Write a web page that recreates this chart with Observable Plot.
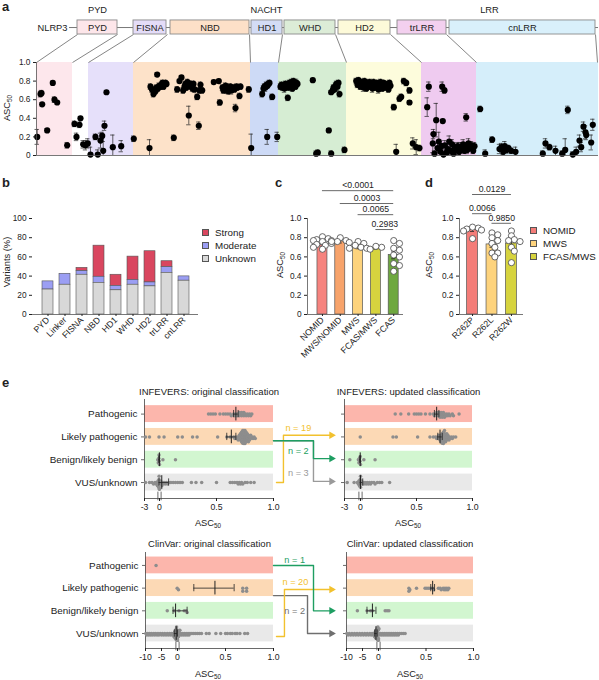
<!DOCTYPE html>
<html>
<head>
<meta charset="utf-8">
<script src="https://cdn.jsdelivr.net/npm/d3@7"></script>
<script src="https://cdn.jsdelivr.net/npm/@observablehq/plot@0.6"></script>
<style>
  html,body{margin:0;padding:0;background:#fff;}
  #fig{position:relative;width:599px;height:680px;overflow:hidden;font-family:"Liberation Sans",Arial,sans-serif;color:#222;}
  .ov{position:absolute;white-space:nowrap;line-height:1;}
  .pl{position:absolute;}
  .pl svg{display:block;}
  .sw{position:absolute;width:7px;height:7px;border:0.8px solid #555;box-sizing:border-box;}
  sub{font-size:68%;vertical-align:-0.3em;line-height:0;}
</style>
</head>
<body>
<div id="fig"></div>
<script>
// ======================= DATA =======================
// ---- panel a: domain schematic (schematic units) and variants (variant rank, ASC50, error)
const aDomainNames = ["PYD","FISNA","NBD","HD1","WHD","HD2","trLRR","cnLRR"];
const aBoxStart    = [41, 97, 134, 215, 248, 302, 361, 413];
const aBoxEnd      = [81, 130, 213, 246, 299, 354, 410, 559];
const aRegionStart = [0, 52, 97, 214, 242, 310, 385, 440];
const aRegionEnd   = [36, 97, 214, 242, 310, 385, 440, 562];
const aGroupNames  = ["PYD","NACHT","LRR"];
const aGroupPos    = [61, 230, 453];
const aConnectBox    = [41, 81, 97, 131, 213, 246, 299, 354, 410, 559];
const aConnectRegion = [0, 36, 52, 97, 214, 242, 310, 385, 440, 561];
const aSpan = [33, 562];
const aYTicks = [0, 0.2, 0.4, 0.6, 0.8, 1.0];
const aVariants = [
[0.7,0.20,0.08],[4,0.66,0.03],[5,0.67,0.03],[5.7,0.55,0.02],[10.7,0.27,0.02],[16.3,0.78,0.02],[18,0.60,0.03],[20.7,0.57,0.02],[30.7,0.11,0.03],
[38,0.34,0.03],[40,0.20,0.04],[43,0.33,0.03],[44,0.40,0.02],[46.7,0.12,0.04],[49,0.11,0.05],[51.3,0.13,0.05],
[54,0.01,0.08],[59,0.20,0.03],[61.3,0.01,0.05],[64,0.16,0.08],[65.7,0.21,0.04],[66.7,0.05,0.10],[68,0.32,0.05],[70,0.68,0.02],[76.3,0.09,0.13],[84.7,0.10,0.06],
[97.3,0.18,0.03],[113,0.08,0.09],
[114,0.74,0.03],[115.5,0.71,0.03],[117,0.66,0.03],[118,0.70,0.03],[119,0.69,0.03],[120,0.73,0.03],[120.7,0.87,0.02],[121.5,0.72,0.03],[122.7,0.75,0.03],[124,0.74,0.03],[125,0.76,0.03],[126,0.78,0.03],[127,0.74,0.03],[128,0.77,0.03],[129,0.78,0.03],[130,0.77,0.03],
[137.3,0.19,0.03],
[140.7,0.71,0.03],[143,0.80,0.02],[145,0.84,0.02],[146.7,0.70,0.03],[148,0.74,0.03],[149,0.77,0.03],[150,0.73,0.03],[151,0.79,0.03],[152,0.76,0.03],[152.3,0.43,0.10],[153,0.75,0.03],[154,0.77,0.03],[155,0.74,0.03],[156,0.72,0.03],[157,0.77,0.03],[158,0.71,0.03],[160.7,0.63,0.03],[162.3,0.32,0.04],[163,0.70,0.03],[164,0.76,0.03],[165.7,0.70,0.03],
[177.3,0.79,0.02],[182.3,0.80,0.02],[183.3,0.57,0.03],[186,0.73,0.03],[187,0.70,0.03],[188,0.72,0.04],[189,0.75,0.03],[190,0.70,0.03],[191,0.73,0.04],[192,0.69,0.03],[193,0.72,0.03],[194,0.74,0.03],[195,0.70,0.04],[197,0.73,0.03],[198,0.71,0.03],[199,0.51,0.04],[200,0.74,0.03],[201,0.73,0.03],[203,0.64,0.03],[204,0.74,0.03],[212.3,0.71,0.03],[214.7,0.08,0.15],
[225.7,0.66,0.03],[227,0.72,0.03],[228,0.74,0.03],[229,0.73,0.04],[230,0.76,0.03],[230.7,0.20,0.08],[231,0.75,0.03],[232,0.77,0.03],[233,0.78,0.03],[235.7,0.63,0.03],[240.7,0.20,0.05],
[244,0.74,0.03],[245,0.76,0.03],[246,0.73,0.03],[247,0.75,0.03],[248,0.72,0.04],[249,0.77,0.03],[250,0.74,0.03],[251.3,0.62,0.03],[252,0.73,0.03],[253,0.78,0.03],[254,0.75,0.03],[255,0.79,0.03],[256,0.72,0.03],[257,0.80,0.03],[258,0.76,0.03],[259,0.74,0.03],[260,0.78,0.04],[261,0.77,0.03],
[276.3,0.81,0.02],[279.7,0.02,0.03],[281.3,0.03,0.03],[292.3,0.27,0.02],[294.7,0.02,0.03],[294.7,0.68,0.02],[296.3,0.70,0.02],[297,0.73,0.03],[298,0.71,0.02],[299,0.75,0.03],[300,0.77,0.03],[301,0.74,0.04],[302,0.78,0.03],[303,0.66,0.03],[308,0.06,0.03],
[319.7,0.80,0.03],[321,0.76,0.03],[322,0.81,0.03],[323,0.78,0.04],[324,0.74,0.03],[325,0.79,0.03],[326,0.77,0.03],[327,0.73,0.04],[328,0.80,0.03],[329,0.76,0.03],[330,0.72,0.03],[331,0.78,0.03],[332,0.75,0.04],[333,0.79,0.03],[334,0.74,0.03],[335,0.77,0.03],[336,0.72,0.04],[337,0.79,0.03],[338,0.76,0.03],[339,0.73,0.03],[340,0.78,0.03],[341,0.75,0.03],[342,0.71,0.04],[343,0.77,0.03],[344,0.79,0.03],[345,0.74,0.03],[346,0.72,0.03],[347,0.78,0.03],[348,0.75,0.03],[349,0.77,0.03],[350,0.73,0.03],[351,0.76,0.03],[352,0.71,0.03],[353,0.78,0.03],[354,0.75,0.03],
[357.3,0.52,0.03],[359.7,0.04,0.08],[363,0.61,0.03],[364.7,0.63,0.03],[367.3,0.80,0.03],[369.7,0.78,0.03],[373,0.70,0.03],[373,0.57,0.02],[376.3,0.13,0.06],[379.7,0.09,0.08],[383,0.08,0.03],
[390.7,0.52,0.10],[392.3,0.74,0.05],[397,0.23,0.05],[399.7,0.38,0.18],[405.7,0.74,0.05],[408,0.70,0.03],[406.3,0.37,0.02],[429.7,0.41,0.04],
[396.3,0.13,0.10],[398,0.02,0.03],[401,0.08,0.05],[402.3,0.15,0.10],[404,0.04,0.05],[405,0.10,0.03],[407,0.01,0.03],[408.3,0.11,0.05],[410,0.03,0.04],[411.3,0.07,0.05],[412.7,0.15,0.06],[414,0.05,0.04],[415.7,0.12,0.05],[417,0.02,0.03],[418.3,0.08,0.04],[420,0.06,0.06],[421.3,0.10,0.04],[422.7,0.04,0.03],[424,0.09,0.05],[425.3,0.07,0.04],[426.7,0.12,0.05],[428,0.05,0.03],[429.3,0.10,0.04],[430.7,0.06,0.04],[432,0.13,0.05],[433.3,0.08,0.03],[435,0.11,0.04],[436.7,0.05,0.03],[438,0.10,0.04],
[443.7,0.50,0.03],[448.7,0.02,0.04],[455.7,0.17,0.03],[463,0.07,0.05],[465,0.09,0.04],[466.7,0.04,0.03],[468.3,0.10,0.05],[470,0.06,0.04],[472,0.08,0.03],[474.7,0.05,0.03],[479,0.04,0.05],
[506.3,0.02,0.03],[509,0.13,0.05],[513,0.09,0.03],[519,0.05,0.05],[525.7,0.02,0.03],[528.7,0.06,0.12],[531.3,0.49,0.04],[536.3,0.01,0.03],[539.7,0.04,0.05],[543,0.16,0.06],[544.7,0.09,0.05],[547,0.31,0.05],[549,0.25,0.07],[549.7,0.22,0.05],[554.7,0.14,0.08],[556.3,0.33,0.06]
];

// ---- panel b: variants (%) per domain
const bCats     = ["PYD","Linker","FISNA","NBD","HD1","WHD","HD2","trLRR","cnLRR"];
const bUnknown  = [26, 31, 41.4, 33, 25.2, 31, 29.3, 43.4, 35.2];
const bModerate = [8.5, 11.4, 3.8, 6.3, 4.5, 4.9, 4.1, 5.9, 4.5];
const bStrong   = [0, 0, 3.4, 32.4, 11.7, 24.4, 32.5, 6.2, 0];
const bClasses  = ["Strong","Moderate","Unknown"];
const bYTicks   = [0, 20, 40, 60, 80, 100];

// ---- panel c: ASC50 by phenotype
const cCats  = ["NOMID","MWS/NOMID","MWS","FCAS/MWS","FCAS"];
const cMeans = [0.72, 0.76, 0.70, 0.69, 0.62];
const cSem   = [0.015, 0.015, 0.015, 0.01, 0.04];
const cPoints = [
  [0.81,0.79,0.78,0.77,0.77,0.76,0.75,0.74,0.73,0.72,0.70,0.68],
  [0.80,0.77,0.76,0.76,0.75],
  [0.76,0.74,0.72,0.70,0.69,0.69],
  [0.68,0.70,0.71],
  [0.77,0.74,0.69,0.67,0.62,0.60,0.53,0.51,0.45]
];
const cSigFrom = ["NOMID","MWS/NOMID","MWS","FCAS/MWS"];
const cSigTo   = ["FCAS","FCAS","FCAS","FCAS"];
const cSigP    = ["<0.0001","0.0003","0.0065","0.2983"];
const cSigLevel = [1.29, 1.156, 1.04, 0.885];
const cYTicks = [0, 0.2, 0.4, 0.6, 0.8, 1.0];

// ---- panel d: R262 variants
const dCats  = ["R262P","R262L","R262W"];
const dMeans = [0.885, 0.73, 0.74];
const dSem   = [0.02, 0.03, 0.035];
const dPoints = [
  [0.91,0.90,0.89,0.88,0.87,0.79],
  [0.85,0.83,0.80,0.77,0.74,0.70,0.64,0.64,0.60],
  [0.87,0.82,0.78,0.77,0.76,0.70,0.66,0.54]
];
const dSigFrom = ["R262P","R262P","R262L"];
const dSigTo   = ["R262W","R262L","R262W"];
const dSigP    = ["0.0129","0.0066","0.9850"];
const dSigLevel = [1.25, 1.05, 0.95];
const dLegend  = ["NOMID","MWS","FCAS/MWS"];

// ---- panel e: classification rows and ASC50 values
const eRows = ["Pathogenic","Likely pathogenic","Benign/likely benign","VUS/unknown"];
const infOrig = [
  [0.43,0.45,0.47,0.49,0.53,0.56,0.58,0.60,0.62,0.63,0.65,0.66,0.67,0.68,0.69,0.70,0.70,0.71,0.72,0.72,0.73,0.74,0.74,0.75,0.76,0.77,0.78,0.79,0.80,0.81],
  [-2.8,-2.0,-0.1,0.04,0.16,0.20,0.29,0.33,0.51,0.59,0.62,0.65,0.66,0.67,0.68,0.69,0.69,0.70,0.70,0.71,0.71,0.71,0.72,0.72,0.72,0.72,0.73,0.73,0.73,0.73,0.73,0.74,0.74,0.74,0.74,0.74,0.74,0.75,0.75,0.75,0.75,0.75,0.76,0.76,0.76,0.76,0.77,0.77,0.77,0.78,0.78,0.78,0.79,0.79,0.80,0.80,0.81,0.82,0.83,0.84],
  [-0.35,-0.25,-0.15,-0.1,-0.05,0.0,0.03,0.14],
  [-2.8,-2.0,-1.5,-1.2,-0.9,-0.7,-0.5,-0.4,-0.3,-0.2,-0.15,-0.1,-0.08,-0.05,-0.03,0.0,0.0,0.01,0.01,0.02,0.02,0.03,0.04,0.05,0.06,0.07,0.08,0.10,0.12,0.14,0.16,0.18,0.20,0.28,0.32,0.37,0.50,0.62,0.64,0.66,0.68,0.69,0.70,0.71,0.72,0.73,0.75,0.77,0.80,0.83]
];
const infOrigStats = [[0.67,0.65,0.69],[0.63,0.59,0.67],[-0.02,-0.15,0.0],[0.02,-0.1,0.08]];
const infUpd = [
  [0.31,0.36,0.43,0.48,0.50,0.52,0.54,0.58,0.62,0.65,0.66,0.67,0.68,0.68,0.69,0.70,0.70,0.71,0.71,0.72,0.72,0.73,0.73,0.74,0.74,0.75,0.75,0.76,0.77,0.78,0.79,0.80,0.82,0.83,0.88],
  [-0.05,0.29,0.32,0.51,0.62,0.65,0.67,0.68,0.69,0.70,0.70,0.71,0.71,0.72,0.72,0.72,0.73,0.73,0.73,0.73,0.74,0.74,0.74,0.74,0.74,0.75,0.75,0.75,0.75,0.76,0.76,0.76,0.77,0.77,0.77,0.78,0.78,0.79,0.79,0.80,0.81,0.82,0.83,0.85],
  [-2.0,-0.4,-0.3,-0.2,-0.1,-0.05,0.0,0.03,0.13],
  [-2.5,-1.2,-0.6,-0.4,-0.3,-0.2,-0.1,-0.05,0.0,0.0,0.01,0.01,0.02,0.03,0.04,0.05,0.06,0.07,0.08,0.09,0.10,0.12,0.13,0.15,0.17,0.19,0.26]
];
const infUpdStats = [[0.68,0.66,0.70],[0.71,0.69,0.73],[-0.05,-0.15,0.0],[0.0,-0.05,0.02]];
const cvOrig = [
  [-6.7],
  [-0.1,0.01,0.68,0.68,0.72,0.72],
  [-3.2,-1.0,0.015,0.07,0.09,0.10],
  [-9.9,-9.6,-9.3,-9.0,-8.7,-8.4,-8.1,-7.8,-7.4,-7.1,-6.8,-6.4,-6.1,-5.8,-5.4,-5.0,-4.7,-4.3,-4.0,-3.6,-3.2,-2.9,-2.5,-2.2,-1.9,-1.6,-1.3,-1.1,-0.9,-0.8,-0.7,-0.6,-0.5,-0.45,-0.4,-0.35,-0.3,-0.25,-0.2,-0.18,-0.15,-0.12,-0.1,-0.08,-0.06,-0.05,-0.04,-0.03,-0.02,-0.01,
   0,0.005,0.01,0.015,0.02,0.025,0.03,0.04,0.05,0.06,0.07,0.08,0.09,0.10,0.11,0.12,0.13,0.15,0.17,0.19,0.21,0.23,0.25,0.30,0.33,0.40,0.45,0.50,0.52,0.55,0.57,0.60,0.62,0.65,0.70,0.73]
];
const cvOrigStats = [null,[0.39,0.17,0.59],[-0.6,-1.4,0.1],[-0.4,-1.0,0.0]];
const cvUpd = [
  [],
  [0.32,0.32,0.33,0.40,0.49,0.51,0.53,0.55,0.57,0.58,0.63,0.65,0.66,0.68,0.69,0.70,0.71,0.72,0.73,0.74],
  [-6.6,-3.6,-2.5,-1.9,0.07,0.09,0.11],
  [-9.9,-9.5,-9.1,-8.7,-8.3,-7.9,-7.5,-7.1,-6.7,-6.3,-5.9,-5.5,-5.1,-4.7,-4.3,-3.9,-3.5,-3.1,-2.7,-2.3,-2.0,-1.7,-1.4,-1.2,-1.0,-0.9,-0.8,-0.7,-0.6,-0.5,-0.4,-0.35,-0.3,-0.25,-0.2,-0.15,-0.1,-0.08,-0.05,-0.03,-0.01,
   0,0.005,0.01,0.02,0.03,0.04,0.05,0.06,0.07,0.08,0.09,0.10,0.11,0.12,0.13,0.14,0.15,0.16,0.17,0.18,0.19,0.20,0.21,0.22,0.24,0.26,0.28]
];
const cvUpdStats = [null,[0.57,0.55,0.59],[-1.9,-3.6,-0.8],[-0.8,-1.2,-0.4]];
const eTopTicks = [-3, 0, 0.5, 1];
const eTopTickLabels = ["-3","0","0.5","1.0"];
const eBotTicks = [-10, -5, 0, 0.5, 1];
const eBotTickLabels = ["-10","-5","0","0.5","1.0"];
const eTopFlows = [
  {from:"Likely pathogenic", to:"VUS/unknown", n:3, color:"gray"},
  {from:"VUS/unknown", to:"Likely pathogenic", n:19, color:"yellow"},
  {from:"Likely pathogenic", to:"Benign/likely benign", n:2, color:"green"}
];
const eBotFlows = [
  {from:"Likely pathogenic", to:"VUS/unknown", n:2, color:"gray"},
  {from:"VUS/unknown", to:"Likely pathogenic", n:20, color:"yellow"},
  {from:"Pathogenic", to:"Benign/likely benign", n:1, color:"green"}
];

// ======================= STYLE / LAYOUT =======================
const FONT = '"Liberation Sans", Arial, sans-serif';
const INK = "#222";
const base = {fontFamily: FONT, fontSize: "8.5px", background: "transparent", color: INK, overflow: "visible"};
const regionFill = {PYD:"#fde7ec", FISNA:"#e6e0fa", NBD:"#fde2c9", HD1:"#cddaf6", WHD:"#d6edd3", HD2:"#fdfcdc", trLRR:"#efcbf0", cnLRR:"#d5eefa"};
const boxFill    = {PYD:"#fde6ea", FISNA:"#e4dcf8", NBD:"#fde0c8", HD1:"#d3dcf5", WHD:"#dcecd7", HD2:"#fdfad9", trLRR:"#f3d0ef", cnLRR:"#d9f0fb"};
const bColors = ["#d9465f","#9b9ef3","#d8d8d8"];
const phenoColor = {"NOMID":"#f6837e","MWS/NOMID":"#f7a36b","MWS":"#fdd37d","FCAS/MWS":"#d6d33e","FCAS":"#6ea83f"};
const dColor = ["#f47c78","#fdd37d","#d6d33e"];
const rowFill = ["#fcb6ac","#fcd9b5","#d2f6d0","#e9e9e9"];
const flowColor = {gray:"#9a9a9a", yellow:"#f2c12e", green:"#1e9e62"};
const flowColorBot = {gray:"#6f6f6f", yellow:"#f2c12e", green:"#1e9e62"};

const fig = document.getElementById("fig");
function mount(svg, left, top) {
  const d = document.createElement("div"); d.className = "pl";
  d.style.left = left + "px"; d.style.top = top + "px";
  d.appendChild(svg); fig.appendChild(d);
}
function ov(html, x, y, o = {}) {
  const d = document.createElement("div"); d.className = "ov"; d.innerHTML = html;
  d.style.left = x + "px"; d.style.top = y + "px";
  d.style.fontSize = (o.size || 9) + "px";
  if (o.bold) d.style.fontWeight = "bold";
  if (o.color) d.style.color = o.color;
  const ax = o.anchor === "start" ? "0%" : o.anchor === "end" ? "-100%" : "-50%";
  d.style.transform = `translate(${ax},-50%)` + (o.rotate ? ` rotate(${o.rotate}deg)` : "");
  fig.appendChild(d);
}
function swatch(x, y, color) {
  const d = document.createElement("div"); d.className = "sw";
  d.style.left = x + "px"; d.style.top = y + "px"; d.style.background = color;
  fig.appendChild(d);
}
// deterministic beeswarm: returns pixel offsets perpendicular to pos
function swarm(pos, r, maxOff, overlap = 0.92) {
  const n = pos.length, out = new Array(n).fill(0);
  const order = d3.range(n).sort((a, b) => pos[a] - pos[b]);
  const placed = [], minD = 2 * r * overlap, step = r * 0.9;
  for (const i of order) {
    const p = pos[i];
    const near = placed.filter(q => Math.abs(q.p - p) < minD);
    let chosen = null;
    for (let k = 0; k < 80 && chosen === null; k++) {
      const cands = k === 0 ? [0] : [k * step, -k * step];
      for (const o of cands) {
        if (near.every(q => (q.p - p) ** 2 + (q.o - o) ** 2 >= minD * minD)) { chosen = o; break; }
      }
    }
    if (chosen === null) chosen = 0;
    chosen = Math.max(-maxOff, Math.min(maxOff, chosen));
    placed.push({p, o: chosen}); out[i] = chosen;
  }
  return out;
}

// ======================= PANEL A =======================
{
  const doms = aDomainNames.map((name, i) => ({name, b0: aBoxStart[i], b1: aBoxEnd[i], r0: aRegionStart[i], r1: aRegionEnd[i]}));
  const groups = aGroupNames.map((name, i) => ({name, pos: aGroupPos[i]}));
  const conn = aConnectBox.map((b, i) => ({box: b, region: aConnectRegion[i]}));
  const vars = aVariants.map(([pos, v, e]) => ({pos, v, e}));
  const S = {boxTop: 1.452, boxBottom: 1.301, line: 1.376, group: 1.559};
  const svg = Plot.plot({
    width: 599, height: 170, marginLeft: 36, marginRight: 1, marginTop: 62, marginBottom: 15,
    style: base,
    x: {domain: [0, 562], axis: null},
    y: {domain: [0, 1], axis: null},
    marks: [
      Plot.rect(doms, {x1: "r0", x2: "r1", y1: 0, y2: 1, fill: d => regionFill[d.name]}),
      Plot.ruleY([S.line], {x1: aSpan[0], x2: aSpan[1], stroke: "#777", strokeWidth: 1}),
      Plot.link(conn, {x1: "box", y1: S.boxBottom, x2: "region", y2: 1, stroke: "#666", strokeWidth: 0.8}),
      Plot.rect(doms, {x1: "b0", x2: "b1", y1: S.boxBottom, y2: S.boxTop, fill: d => boxFill[d.name], stroke: "#8a8a8a", strokeWidth: 0.9}),
      Plot.text(doms, {x: d => (d.b0 + d.b1) / 2, y: S.line, text: "name", fontSize: 9.3}),
      Plot.text(groups, {x: "pos", y: S.group, text: "name", fontSize: 9.3}),
      Plot.text(["NLRP3"], {x: aSpan[0], y: S.line, text: d => d, textAnchor: "end", dx: -2, fontSize: 9.3}),
      Plot.ruleX(vars, {x: "pos", y1: d => Math.max(0, d.v - d.e), y2: d => d.v + d.e, stroke: "#222", strokeWidth: 0.7}),
      Plot.ruleY(vars, {x1: "pos", x2: "pos", y: d => d.v + d.e, insetLeft: -2.2, insetRight: -2.2, stroke: "#222", strokeWidth: 0.7}),
      Plot.ruleY(vars.filter(d => d.v - d.e > 0), {x1: "pos", x2: "pos", y: d => d.v - d.e, insetLeft: -2.2, insetRight: -2.2, stroke: "#222", strokeWidth: 0.7}),
      Plot.dot(vars, {x: "pos", y: "v", r: 3.1, fill: "#000"}),
      Plot.ruleX([0], {y1: 0, y2: 1, stroke: "#555", strokeWidth: 0.8}),
      Plot.ruleY([0], {stroke: "#555", strokeWidth: 0.8}),
      Plot.axisY({ticks: aYTicks, tickFormat: d => d === 0 ? "0" : d.toFixed(1), tickSize: 3, tickPadding: 3, fontSize: 8.3, label: null})
    ]
  });
  mount(svg, 0, 0);
  ov("a", 2, 6, {size: 13, bold: true, anchor: "start"});
  ov("ASC<sub>50</sub>", 8, 108, {size: 9.3, rotate: -90});
}

// ======================= PANEL B =======================
{
  const vals = [bStrong, bModerate, bUnknown];
  const long = bCats.flatMap((cat, i) => bClasses.map((cls, k) => ({cat, cls, v: vals[k][i]}))).filter(d => d.v > 0);
  const svg = Plot.plot({
    width: 199, height: 175, marginLeft: 32, marginRight: 1, marginTop: 48, marginBottom: 31,
    style: base,
    x: {domain: bCats, paddingInner: 0.37, paddingOuter: 0.4, label: null},
    y: {domain: [0, 100], label: null},
    color: {domain: bClasses, range: bColors},
    marks: [
      Plot.barY(long, {x: "cat", y: "v", fill: "cls", order: ["Unknown","Moderate","Strong"], stroke: "#555", strokeWidth: 0.6}),
      Plot.ruleY([0], {stroke: "#555", strokeWidth: 0.8}),
      Plot.axisY({ticks: bYTicks, tickSize: 3, tickPadding: 3, fontSize: 8.3, label: null}),
      Plot.axisX({tickRotate: -45, tickSize: 2, tickPadding: 2, fontSize: 8.8, label: null})
    ]
  });
  mount(svg, 0, 170);
  ov("b", 2, 182, {size: 13, bold: true, anchor: "start"});
  ov("Variants (%)", 8, 262, {size: 9.3, rotate: -90});
  bClasses.forEach((c, k) => {
    swatch(202, 229 + k * 13, bColors[k]);
    ov(c, 215, 233 + k * 13, {size: 9.8, anchor: "start"});
  });
}

// ======================= PANEL C / D =======================
function barPanel({cats, means, sem, points, colors, sigFrom, sigTo, sigP, sigLevel, xDomain, pxX, width, marginLeft, marginRight}) {
  const bars = cats.map((cat, i) => ({cat, i, m: means[i], s: sem[i], c: colors[i]}));
  const dots = cats.flatMap((cat, i) => {
    const vals = points[i];
    const offs = swarm(vals.map(v => -v * 96), 3.2, 9, 0.72);
    return vals.map((v, k) => ({x: i + offs[k] / pxX, v}));
  });
  const sig = sigP.map((p, k) => ({a: cats.indexOf(sigFrom[k]), b: cats.indexOf(sigTo[k]), p, h: sigLevel[k]}));
  const hw = 0.28;
  return Plot.plot({
    width, height: 175, marginLeft, marginRight, marginTop: 48, marginBottom: 31,
    style: base,
    x: {domain: xDomain, label: null},
    y: {domain: [0, 1], label: null},
    marks: [
      Plot.rectY(bars, {x1: d => d.i - hw, x2: d => d.i + hw, y: "m", fill: "c", stroke: "#555", strokeWidth: 0.7}),
      Plot.ruleX(bars, {x: "i", y1: d => d.m - d.s, y2: d => d.m + d.s, stroke: "#222", strokeWidth: 0.8}),
      Plot.ruleY(bars, {x1: "i", x2: "i", y: d => d.m + d.s, insetLeft: -2, insetRight: -2, stroke: "#222", strokeWidth: 0.8}),
      Plot.ruleY(bars, {x1: "i", x2: "i", y: d => d.m - d.s, insetLeft: -2, insetRight: -2, stroke: "#222", strokeWidth: 0.8}),
      Plot.dot(dots, {x: "x", y: "v", r: 3.1, fill: "white", stroke: "#444", strokeWidth: 0.8}),
      Plot.ruleY(sig, {x1: "a", x2: "b", y: "h", stroke: "#444", strokeWidth: 0.8}),
      Plot.text(sig, {x: d => (d.a + d.b) / 2, y: "h", text: "p", dy: -5.5, fontSize: 8.7}),
      Plot.ruleY([0], {stroke: "#555", strokeWidth: 0.8}),
      Plot.ruleX([xDomain[0]], {y1: 0, y2: 1, stroke: "#555", strokeWidth: 0.8}),
      Plot.axisY({ticks: cYTicks, tickFormat: d => d === 0 ? "0" : d.toFixed(1), tickSize: 3, tickPadding: 3, fontSize: 8.3, label: null}),
      Plot.axisX({ticks: d3.range(cats.length), tickFormat: i => cats[i], tickRotate: -45, tickSize: 2, tickPadding: 2, fontSize: 8.8, label: null})
    ]
  });
}
{
  const svg = barPanel({cats: cCats, means: cMeans, sem: cSem, points: cPoints, colors: cCats.map(c => phenoColor[c]),
    sigFrom: cSigFrom, sigTo: cSigTo, sigP: cSigP, sigLevel: cSigLevel,
    xDomain: [-0.84, 4.55], pxX: 17.8, width: 205, marginLeft: 107, marginRight: 2});
  mount(svg, 200, 170);
  ov("c", 275, 182, {size: 13, bold: true, anchor: "start"});
  ov("ASC<sub>50</sub>", 281, 265, {size: 9.3, rotate: -90});
}
{
  const svg = barPanel({cats: dCats, means: dMeans, sem: dSem, points: dPoints, colors: dColor,
    sigFrom: dSigFrom, sigTo: dSigTo, sigP: dSigP, sigLevel: dSigLevel,
    xDomain: [-0.67, 2.62], pxX: 19.5, width: 199, marginLeft: 59, marginRight: 76});
  mount(svg, 400, 170);
  ov("d", 425, 182, {size: 13, bold: true, anchor: "start"});
  ov("ASC<sub>50</sub>", 430, 265, {size: 9.3, rotate: -90});
  dLegend.forEach((c, k) => {
    swatch(530, 227 + k * 13, dColor[k]);
    ov(c, 543, 231 + k * 13, {size: 9.8, anchor: "start"});
  });
}

// ======================= PANEL E =======================
function buildE(cfg) {
  const xs = d3.scaleLinear().domain(cfg.xDomain).range(cfg.xRange);
  const [y0, y1] = cfg.yDomain;
  const pxPerRow = (cfg.yRange[1] - cfg.yRange[0]) / (y1 - y0);
  const bands = [], dots = [], stats = [], rowTicks = [], axes = [], titles = [], breaks = [], tickVals = [];
  const tickText = new Map();
  cfg.panels.forEach(p => {
    const lo = p.shift + cfg.span[0], hi = p.shift + cfg.span[1];
    axes.push({lo, hi});
    titles.push({x: xs.invert((xs(lo) + xs(hi)) / 2), text: p.title});
    breaks.push(p.shift);
    cfg.ticks.forEach((t, k) => { tickVals.push(t + p.shift); tickText.set(t + p.shift, cfg.tickLabels[k]); });
    eRows.forEach((row, ri) => {
      bands.push({lo, hi, ri});
      rowTicks.push({x: lo, ri});
      const vals = p.values[ri];
      const offs = swarm(vals.map(v => xs(v + p.shift)), 1.75, 6.5, 0.5);
      vals.forEach((v, k) => dots.push({x: v + p.shift, y: ri + offs[k] / pxPerRow}));
      const s = p.stats[ri];
      if (s) stats.push({m: s[0] + p.shift, lo: s[1] + p.shift, hi: s[2] + p.shift, ri});
    });
  });
  const gapStart = cfg.panels[0].shift + cfg.span[1];
  const gapEnd = cfg.panels[1].shift + cfg.span[0];
  const gx = f => gapStart + f * (gapEnd - gapStart);
  const pts = [], tips = [], labs = [];
  cfg.flows.forEach((fl, k) => {
    const r = cfg.routes[k];
    const ya = eRows.indexOf(fl.from) + r.dy0, yb = eRows.indexOf(fl.to) + r.dy1;
    const col = cfg.flowColors[fl.color];
    [[r.f0, ya], [r.fe, ya], [r.fe, yb], [r.f1, yb]].forEach(([f, y]) => pts.push({id: k, x: gx(f), y, c: col}));
    tips.push({x: gx(r.f1), y: yb, c: col});
    labs.push({x: gx(r.lf), y: r.ly, c: col, t: `n = ${fl.n}`});
  });
  const leftLo = cfg.panels[0].shift + cfg.span[0];
  const svg = Plot.plot({
    width: 599, height: cfg.height, marginLeft: 0, marginRight: 0,
    marginTop: cfg.yRange[0], marginBottom: cfg.height - cfg.yRange[1],
    style: base,
    x: {type: "linear", domain: cfg.xDomain, range: cfg.xRange, label: null},
    y: {type: "linear", domain: cfg.yDomain, range: cfg.yRange, axis: null},
    marks: [
      Plot.rect(bands, {x1: "lo", x2: "hi", y1: d => d.ri - 0.37, y2: d => d.ri + 0.37, fill: d => rowFill[d.ri]}),
      Plot.ruleX(axes, {x: "lo", y1: y0, y2: y1, stroke: "#444", strokeWidth: 0.8}),
      Plot.ruleY(axes, {x1: "lo", x2: "hi", y: y1, stroke: "#444", strokeWidth: 0.8}),
      Plot.ruleY(rowTicks, {x1: "x", x2: "x", y: "ri", insetLeft: -3, stroke: "#444", strokeWidth: 0.8}),
      Plot.ruleX(breaks, {x: d => d, y1: y1 - 0.28, y2: y1 + 0.1, dx: -1.6, stroke: "#444", strokeWidth: 0.8}),
      Plot.ruleX(breaks, {x: d => d, y1: y1 - 0.28, y2: y1 + 0.1, dx: 1.6, stroke: "#444", strokeWidth: 0.8}),
      Plot.text(eRows, {x: leftLo, y: (d, i) => i, text: d => d, textAnchor: "end", dx: -7, fontSize: 9.9}),
      Plot.text(titles, {x: "x", y: y0, text: "text", dy: cfg.titleDy, fontSize: 9.5}),
      Plot.dot(dots, {x: "x", y: "y", r: 1.75, fill: "#8d8d8d"}),
      Plot.ruleX(stats, {x: "m", y1: d => d.ri - 0.3, y2: d => d.ri + 0.3, stroke: "#222", strokeWidth: 1}),
      Plot.ruleY(stats, {x1: "lo", x2: "hi", y: "ri", stroke: "#222", strokeWidth: 0.8}),
      Plot.ruleX(stats, {x: "lo", y1: d => d.ri - 0.16, y2: d => d.ri + 0.16, stroke: "#222", strokeWidth: 0.8}),
      Plot.ruleX(stats, {x: "hi", y1: d => d.ri - 0.16, y2: d => d.ri + 0.16, stroke: "#222", strokeWidth: 0.8}),
      Plot.line(pts, {x: "x", y: "y", z: "id", stroke: "c", strokeWidth: 1.4}),
      Plot.dot(tips, {x: "x", y: "y", symbol: "triangle", rotate: 90, r: 2.8, fill: "c", dx: -2}),
      Plot.text(labs, {x: "x", y: "y", text: "t", fill: "c", fontSize: 9.2}),
      Plot.axisX({ticks: tickVals, tickFormat: v => tickText.get(v), tickSize: 3, tickPadding: 2, fontSize: 8.7, label: null})
    ]
  });
  return svg;
}
{
  const svg = buildE({
    height: 160, xDomain: [-3, 0, 1, 7, 10, 11], xRange: [144, 159, 273, 344, 360, 472],
    yDomain: [-0.64, 3.7], yRange: [29, 128], span: [-3, 1], titleDy: -8,
    ticks: eTopTicks, tickLabels: eTopTickLabels,
    panels: [
      {shift: 0, title: "INFEVERS: original classification", values: infOrig, stats: infOrigStats},
      {shift: 10, title: "INFEVERS: updated classification", values: infUpd, stats: infUpdStats}
    ],
    flows: eTopFlows, flowColors: flowColor,
    routes: [
      {f0: 0, fe: 0.563, f1: 0.845, dy0: 0.17, dy1: -0.05, lf: 0.35, ly: 2.6},
      {f0: 0.042, fe: 0.14, f1: 0.845, dy0: 0, dy1: -0.07, lf: 0.35, ly: 0.6},
      {f0: 0, fe: 0.563, f1: 0.845, dy0: 0.17, dy1: -0.05, lf: 0.35, ly: 1.6}
    ]
  });
  mount(svg, 0, 370);
  ov("e", 2, 382, {size: 13, bold: true, anchor: "start"});
  ov("ASC<sub>50</sub>", 208, 524, {size: 9.3});
  ov("ASC<sub>50</sub>", 408, 524, {size: 9.3});
}
{
  const svg = buildE({
    height: 150, xDomain: [-10, 0, 1, 10, 20, 21], xRange: [145, 177, 273, 346, 378, 473],
    yDomain: [-0.57, 3.66], yRange: [22, 118], span: [-10, 1], titleDy: -9,
    ticks: eBotTicks, tickLabels: eBotTickLabels,
    panels: [
      {shift: 0, title: "ClinVar: original classification", values: cvOrig, stats: cvOrigStats},
      {shift: 20, title: "ClinVar: updated classification", values: cvUpd, stats: cvUpdStats}
    ],
    flows: eBotFlows, flowColors: flowColorBot,
    routes: [
      {f0: 0, fe: 0.466, f1: 0.822, dy0: 0.33, dy1: 0, lf: 0.29, ly: 2.03},
      {f0: 0.041, fe: 0.15, f1: 0.822, dy0: 0.13, dy1: 0.06, lf: 0.3, ly: 0.71},
      {f0: 0, fe: 0.548, f1: 0.822, dy0: 0, dy1: 0, lf: 0.29, ly: -0.22}
    ]
  });
  mount(svg, 0, 530);
  ov("ASC<sub>50</sub>", 208, 675, {size: 9.3});
  ov("ASC<sub>50</sub>", 410, 675, {size: 9.3});
}
</script>
</body>
</html>
